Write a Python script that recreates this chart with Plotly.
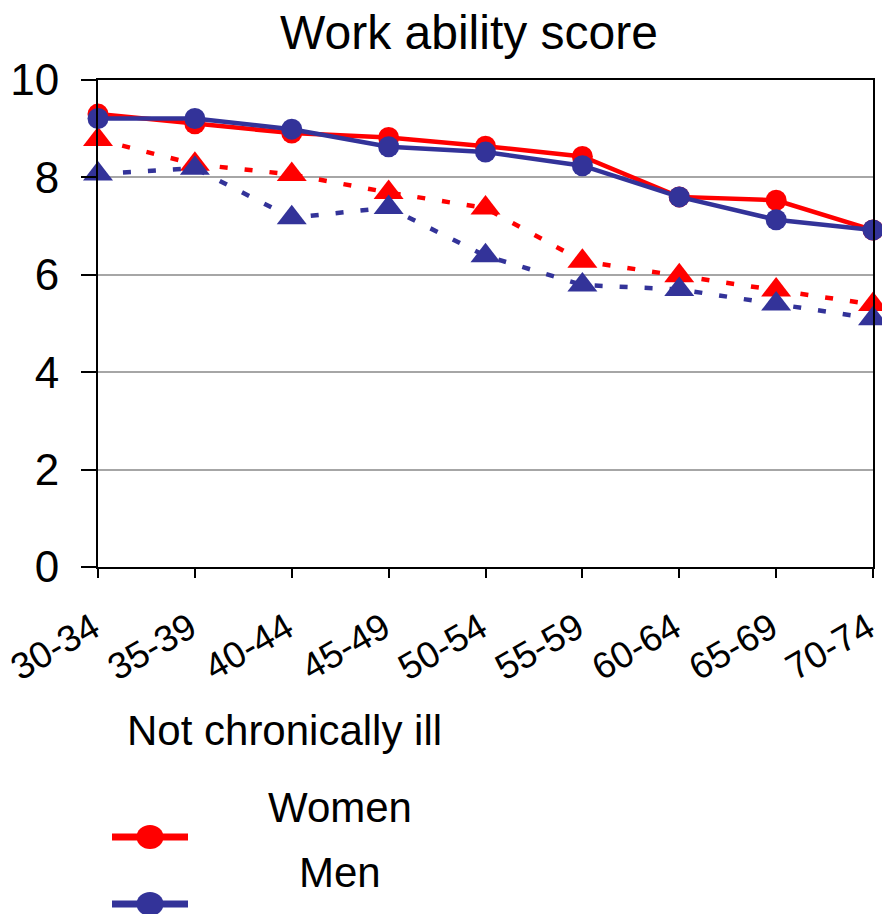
import plotly.graph_objects as go

# ---- data ----
age_groups = ["30-34", "35-39", "40-44", "45-49", "50-54", "55-59", "60-64", "65-69", "70-74"]
women_not_ill = [9.30, 9.10, 8.91, 8.82, 8.64, 8.43, 7.60, 7.53, 6.92]
men_not_ill = [9.21, 9.21, 8.99, 8.63, 8.52, 8.24, 7.60, 7.13, 6.92]
women_ill = [8.78, 8.27, 8.06, 7.69, 7.37, 6.28, 5.98, 5.69, 5.39]
men_ill = [8.07, 8.19, 7.17, 7.38, 6.39, 5.79, 5.70, 5.40, 5.10]
y_ticks = [0, 2, 4, 6, 8, 10]

RED = "#FF0000"
BLUE = "#333399"
FONT = "Arial, Liberation Sans, sans-serif"

W, H = 882, 914
ML, MR, MT, MB = 98, 9, 80, 347
PW = W - ML - MR
PH = H - MT - MB


def px(x):
    return (x - ML) / PW


def py(y):
    return (MT + PH - y) / PH


fig = go.Figure()

dash = "8px,17px"
fig.add_trace(go.Scatter(x=age_groups, y=women_ill, name="Women, chronically ill",
                         mode="lines+markers", showlegend=False, cliponaxis=False,
                         line=dict(color=RED, width=4.5, dash=dash),
                         marker=dict(symbol="triangle-up", size=26, color=RED)))
fig.add_trace(go.Scatter(x=age_groups, y=men_ill, name="Men, chronically ill",
                         mode="lines+markers", showlegend=False, cliponaxis=False,
                         line=dict(color=BLUE, width=4.5, dash=dash),
                         marker=dict(symbol="triangle-up", size=26, color=BLUE)))
fig.add_trace(go.Scatter(x=age_groups, y=women_not_ill, name="Women",
                         mode="lines+markers", showlegend=False, cliponaxis=False,
                         line=dict(color=RED, width=4.5),
                         marker=dict(symbol="circle", size=21, color=RED)))
fig.add_trace(go.Scatter(x=age_groups, y=men_not_ill, name="Men",
                         mode="lines+markers", showlegend=False, cliponaxis=False,
                         line=dict(color=BLUE, width=4.5),
                         marker=dict(symbol="circle", size=21, color=BLUE)))

# custom legend (as in the reference, text and samples are offset)
annotations = [
    dict(text="Not chronically ill", x=px(125), y=py(730), xanchor="left", yanchor="middle"),
    dict(text="Women", x=px(340), y=py(807), xanchor="center", yanchor="middle"),
    dict(text="Men", x=px(340), y=py(872), xanchor="center", yanchor="middle"),
]
for a in annotations:
    a.update(xref="paper", yref="paper", showarrow=False,
             font=dict(family=FONT, size=42, color="black"))

shapes = []
for color, yy in [(RED, 837), (BLUE, 904)]:
    shapes.append(dict(type="line", xref="paper", yref="paper",
                       x0=px(112), x1=px(188), y0=py(yy), y1=py(yy),
                       line=dict(color=color, width=7)))
    shapes.append(dict(type="circle", xref="paper", yref="paper",
                       xsizemode="pixel", ysizemode="pixel",
                       xanchor=px(150), yanchor=py(yy),
                       x0=-13.5, x1=13.5, y0=-12, y1=12,
                       fillcolor=color, line=dict(width=0)))

fig.update_layout(
    width=W, height=H,
    margin=dict(l=ML, r=MR, t=MT, b=MB, autoexpand=False),
    paper_bgcolor="white", plot_bgcolor="white",
    font=dict(family=FONT, color="black"),
    title=dict(text="Work ability score", x=469 / W, xref="container", xanchor="center",
               y=1 - 32 / H, yref="container", yanchor="middle",
               font=dict(family=FONT, size=48, color="black")),
    annotations=annotations,
    shapes=shapes,
    showlegend=False,
)

fig.update_xaxes(
    type="category", range=[0, len(age_groups) - 1], automargin=False,
    showline=True, linecolor="black", linewidth=2, mirror=True,
    ticks="outside", ticklen=9, tickwidth=2, tickcolor="black",
    tickangle=-30, tickfont=dict(family=FONT, size=37, color="black"),
    ticklabelstandoff=14, ticklabelshift=-5,
    showgrid=False, zeroline=False,
)
fig.update_yaxes(
    range=[0, 10], tickvals=y_ticks, ticktext=[str(v) for v in y_ticks], automargin=False,
    showline=True, linecolor="black", linewidth=2, mirror=True,
    ticks="outside", ticklen=15, tickwidth=2, tickcolor="black",
    tickfont=dict(family=FONT, size=44, color="black"), ticklabelstandoff=13,
    showgrid=True, gridcolor="#A6A6A6", gridwidth=1.5, zeroline=False,
)

fig.write_html("out.html")
